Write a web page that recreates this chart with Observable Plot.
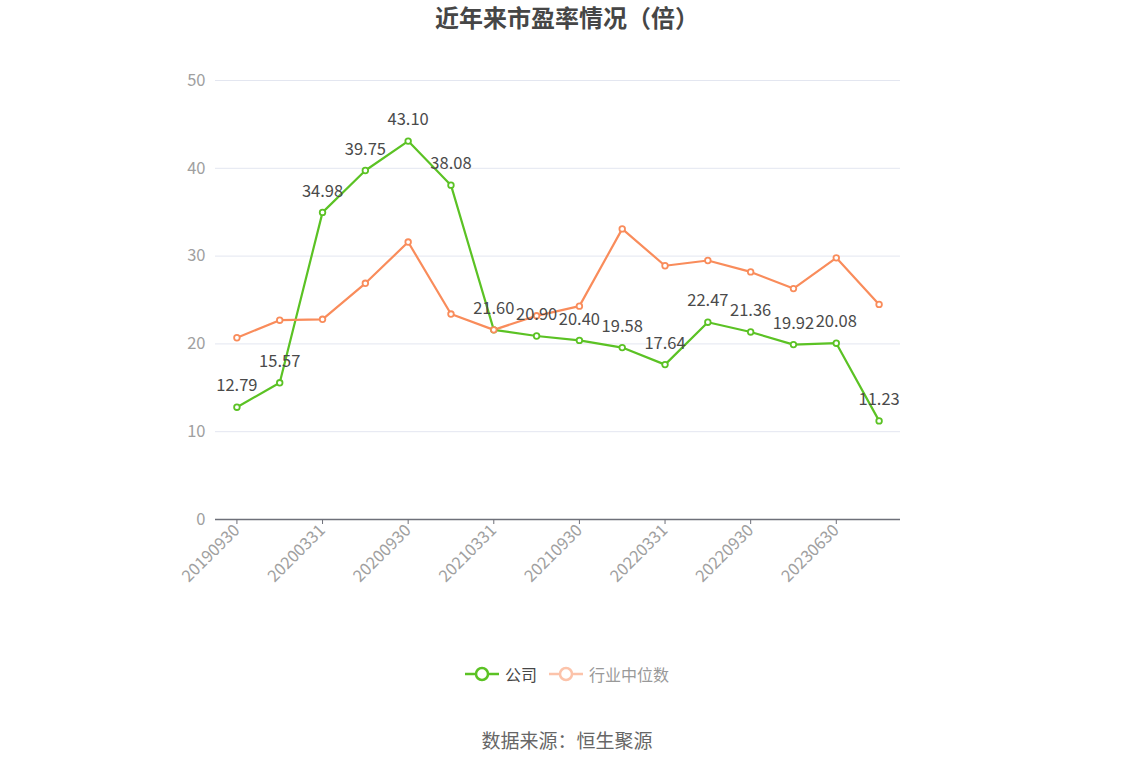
<!DOCTYPE html>
<html>
<head>
<meta charset="utf-8">
<script src="https://cdn.jsdelivr.net/npm/d3@7"></script>
<script src="https://cdn.jsdelivr.net/npm/@observablehq/plot@0.6"></script>
<style>
  body { margin: 0; background: #fff; font-family: "Noto Sans CJK SC", "Noto Sans", sans-serif; }
  #wrap { position: relative; width: 1134px; height: 766px; overflow: hidden; }
  #title { position: absolute; top: 0; left: 0; width: 1134px; text-align: center; font-size: 24px; font-weight: bold; color: #464646; line-height: 34px; }
  #chart { position: absolute; top: 40px; left: 0; }
  #legend { position: absolute; top: 662px; left: 0; width: 1134px; display: flex; justify-content: center; align-items: center; font-size: 16px; }
  .item { display: flex; align-items: center; margin: 0 6px; }
  .item svg { margin-right: 6px; }
  #source { position: absolute; top: 726px; left: 0; width: 1134px; text-align: center; font-size: 19px; color: #666; line-height: 28px; }
</style>
</head>
<body>
<div id="wrap">
  <div id="title">近年来市盈率情况（倍）</div>
  <div id="chart"></div>
  <div id="legend"></div>
  <div id="source">数据来源：恒生聚源</div>
</div>
<script>
const dates = ["20190930","20191231","20200331","20200630","20200930","20201231","20210331","20210630","20210930","20211231","20220331","20220630","20220930","20221231","20230630","20230930"];
const company = [12.79,15.57,34.98,39.75,43.10,38.08,21.60,20.90,20.40,19.58,17.64,22.47,21.36,19.92,20.08,11.23];
const industry = [20.7,22.7,22.8,26.9,31.6,23.4,21.6,23.2,24.3,33.1,28.9,29.5,28.2,26.3,29.8,24.5];
const xTickLabels = ["20190930","20200331","20200930","20210331","20210930","20220331","20220930","20230630"];
const yTicks = [0,10,20,30,40,50];
const seriesNames = ["公司","行业中位数"];

const green = "#5bc224";
const orange = "#f98c5b";

const compData = dates.map((d,i) => ({date: d, v: company[i]}));
const indData = dates.map((d,i) => ({date: d, v: industry[i]}));

const chart = Plot.plot({
  width: 1134,
  height: 580,
  marginLeft: 215,
  marginRight: 234,
  marginTop: 40,
  marginBottom: 101,
  style: { fontFamily: "'Noto Sans CJK SC', 'Noto Sans', sans-serif", background: "transparent", overflow: "visible" },
  x: { type: "point", domain: dates, padding: 0.5, round: false },
  y: { domain: [0, 50] },
  marks: [
    Plot.ruleY(yTicks.filter(t => t > 0), { stroke: "#e3e6f0", strokeWidth: 1 }),
    Plot.axisY({ ticks: yTicks, tickSize: 0, tickPadding: 10, fontSize: 16.5, fill: "#a0a0a0", label: null }),
    Plot.ruleY([0], { stroke: "#6e7079", strokeWidth: 1.5 }),
    Plot.axisX({ ticks: xTickLabels, tickRotate: -45, tickSize: 5, tickPadding: 3, stroke: "#6e7079", fill: "#a0a0a0", fontSize: 16.5, label: null }),
    Plot.line(compData, { x: "date", y: "v", stroke: green, strokeWidth: 2.2 }),
    Plot.line(indData, { x: "date", y: "v", stroke: orange, strokeWidth: 2.2 }),
    Plot.dot(compData, { x: "date", y: "v", r: 2.8, fill: "white", stroke: green, strokeWidth: 1.8 }),
    Plot.dot(indData, { x: "date", y: "v", r: 2.8, fill: "white", stroke: orange, strokeWidth: 1.8 }),
    Plot.text(compData, { x: "date", y: "v", text: d => d.v.toFixed(2), dy: -21, fontSize: 16.5, fill: "#4a4a4a" })
  ]
});
document.getElementById("chart").appendChild(chart);

const legendColors = [green, "#fcc3aa"];
const legendText = ["#464646", "#999"];
const legend = document.getElementById("legend");
seriesNames.forEach((name, i) => {
  const item = document.createElement("div");
  item.className = "item";
  item.innerHTML = `<svg width="34" height="16"><line x1="0" y1="8" x2="34" y2="8" stroke="${legendColors[i]}" stroke-width="2.5"/><circle cx="17" cy="8" r="6" fill="white" stroke="${legendColors[i]}" stroke-width="2.5"/></svg><span style="color:${legendText[i]}">${name}</span>`;
  legend.appendChild(item);
});
</script>
</body>
</html>
